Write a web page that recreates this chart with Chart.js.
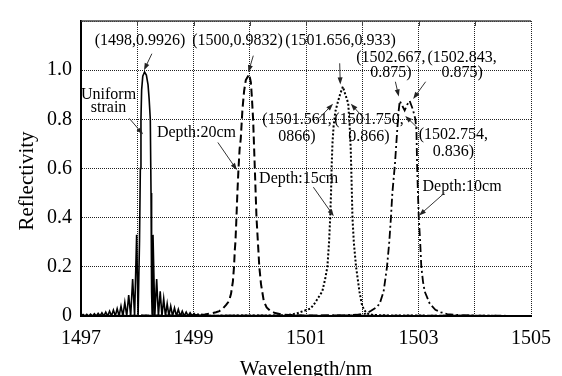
<!DOCTYPE html>
<html lang="en">
<head>
<meta charset="UTF-8">
<title>Reflectivity vs Wavelength</title>
<script src="https://cdn.jsdelivr.net/npm/chart.js"></script>
<style>
  body { margin: 0; background: white; }
  canvas { display: block; }
</style>
</head>
<body>
<canvas id="reflChart" width="562" height="376"></canvas>
<script>
// tick labels shown on the axes (grid runs every 1 nm / 0.2)
const xTickLabels = [1497, 1499, 1501, 1503, 1505];
const yTickLabels = [0, 0.2, 0.4, 0.6, 0.8, 1.0];

// [wavelength nm, reflectivity]
const uniformStrain = [
  [1497.000, 0], [1497.036, 0.006], [1497.070, 0], [1497.103, 0.007], [1497.137, 0], [1497.170, 0.008],
  [1497.204, 0], [1497.238, 0.009], [1497.271, 0], [1497.305, 0.011], [1497.339, 0], [1497.372, 0.013],
  [1497.406, 0], [1497.440, 0.016], [1497.474, 0], [1497.508, 0.020], [1497.542, 0], [1497.576, 0.024],
  [1497.610, 0], [1497.643, 0.030], [1497.677, 0], [1497.711, 0.040], [1497.745, 0], [1497.779, 0.055],
  [1497.813, 0], [1497.848, 0.085], [1497.883, 0], [1497.918, 0.150], [1497.953, 0], [1497.989, 0.330],
  [1498.015, 0],
  [1498.025, 0], [1498.040, 0.30], [1498.055, 0.60], [1498.066, 0.80], [1498.078, 0.92], [1498.098, 0.975],
  [1498.130, 0.9926], [1498.162, 0.98], [1498.192, 0.94], [1498.212, 0.88], [1498.232, 0.80],
  [1498.245, 0.50], [1498.255, 0.10], [1498.265, 0],
  [1498.280, 0.330], [1498.312, 0], [1498.345, 0.150], [1498.376, 0], [1498.408, 0.100], [1498.439, 0],
  [1498.470, 0.070], [1498.501, 0], [1498.532, 0.050], [1498.563, 0], [1498.595, 0.040], [1498.628, 0],
  [1498.662, 0.033], [1498.696, 0], [1498.730, 0.027], [1498.765, 0], [1498.800, 0.020], [1498.835, 0],
  [1498.870, 0.016], [1498.905, 0], [1498.940, 0.013], [1498.975, 0], [1499.010, 0.010], [1499.045, 0],
  [1499.080, 0.008], [1499.115, 0], [1499.150, 0.006], [1499.185, 0], [1499.220, 0.005], [1499.250, 0],
  [1499.500, 0.002], [1505.000, 0]
];

const depth20 = [
  [1497.0, 0], [1499.0, 0.003], [1499.2, 0.006], [1499.3, 0.01], [1499.4, 0.015], [1499.46, 0.02],
  [1499.52, 0.03], [1499.58, 0.045], [1499.63, 0.06], [1499.667, 0.09], [1499.70, 0.14], [1499.72, 0.2],
  [1499.735, 0.27], [1499.745, 0.3], [1499.76, 0.38], [1499.78, 0.5], [1499.80, 0.6], [1499.82, 0.68],
  [1499.84, 0.72], [1499.855, 0.78], [1499.87, 0.84], [1499.90, 0.916], [1499.93, 0.96], [1499.99, 0.9832],
  [1500.02, 0.95], [1500.035, 0.9], [1500.06, 0.8], [1500.09, 0.6], [1500.12, 0.4], [1500.15, 0.28],
  [1500.17, 0.2], [1500.20, 0.13], [1500.25, 0.06], [1500.30, 0.035], [1500.37, 0.02], [1500.45, 0.012],
  [1500.55, 0.007], [1500.70, 0.004], [1501.00, 0.002], [1505.0, 0]
];

const depth15 = [
  [1497.0, 0], [1500.5, 0.002], [1500.7, 0.005], [1500.83, 0.01], [1500.95, 0.02], [1501.08, 0.03],
  [1501.15, 0.05], [1501.22, 0.075], [1501.29, 0.1], [1501.34, 0.15], [1501.38, 0.2], [1501.41, 0.3],
  [1501.43, 0.4], [1501.445, 0.5], [1501.455, 0.6], [1501.47, 0.7], [1501.49, 0.77], [1501.52, 0.83],
  [1501.561, 0.866], [1501.61, 0.905], [1501.656, 0.933], [1501.70, 0.9], [1501.75, 0.866],
  [1501.775, 0.78], [1501.795, 0.68], [1501.81, 0.55], [1501.826, 0.4], [1501.85, 0.3], [1501.89, 0.2],
  [1501.95, 0.1], [1501.99, 0.05], [1502.03, 0.025], [1502.09, 0.01], [1502.2, 0.004], [1502.5, 0.002],
  [1505.0, 0]
];

const depth10 = [
  [1497.0, 0], [1501.5, 0.002], [1501.9, 0.005], [1502.06, 0.01], [1502.15, 0.02], [1502.25, 0.035],
  [1502.31, 0.05], [1502.38, 0.1], [1502.44, 0.2], [1502.48, 0.3], [1502.51, 0.4], [1502.535, 0.5],
  [1502.58, 0.614], [1502.62, 0.75], [1502.645, 0.83], [1502.667, 0.875], [1502.70, 0.86],
  [1502.754, 0.836], [1502.80, 0.86], [1502.843, 0.875], [1502.90, 0.84], [1502.945, 0.8],
  [1502.964, 0.75], [1502.975, 0.614], [1502.99, 0.5], [1503.005, 0.4], [1503.03, 0.3], [1503.05, 0.2],
  [1503.08, 0.14], [1503.11, 0.1], [1503.2, 0.05], [1503.3, 0.025], [1503.4, 0.015], [1503.51, 0.008],
  [1503.7, 0.004], [1504.0, 0.002], [1505.0, 0]
];

// callouts: text lines, first baseline (data coords), line gap px, arrow tail -> head (data coords)
const notes = [
  { lines: ['(1498,0.9926)'], at: [1498.05, 1.102], gap: 15, from: [1498.26, 1.067], to: [1498.12, 1.0] },
  { lines: ['(1500,0.9832)'], at: [1499.783, 1.102], gap: 15, from: [1500.063, 1.059], to: [1499.976, 0.992] },
  { lines: ['(1501.656,0.933)'], at: [1501.613, 1.102], gap: 15, from: [1501.599, 1.028], to: [1501.61, 0.942] },
  { lines: ['(1502.667,', '0.875)'], at: [1502.51, 1.035], gap: 15, from: [1502.589, 0.953], to: [1502.649, 0.893] },
  { lines: ['(1502.843,', '0.875)'], at: [1503.775, 1.035], gap: 15, from: [1503.127, 0.953], to: [1502.905, 0.883] },
  { lines: ['(1501.561,', '0866)'], at: [1500.84, 0.78], gap: 17, from: [1501.231, 0.804], to: [1501.481, 0.863] },
  { lines: ['(1501.750,', '0.866)'], at: [1502.12, 0.78], gap: 17, from: [1502.03, 0.804], to: [1501.797, 0.863] },
  { lines: ['(1502.754,', '0.836)'], at: [1503.62, 0.72], gap: 17, from: [1503.01, 0.759], to: [1502.765, 0.814] },
  { lines: ['Uniform', 'strain'], at: [1497.49, 0.882], gap: 13, from: [1497.858, 0.804], to: [1498.103, 0.739] },
  { lines: ['Depth:20cm'], at: [1499.053, 0.728], gap: 15, from: [1499.433, 0.706], to: [1499.771, 0.594] },
  { lines: ['Depth:15cm'], at: [1500.869, 0.543], gap: 15, from: [1501.131, 0.524], to: [1501.494, 0.406] },
  { lines: ['Depth:10cm'], at: [1503.775, 0.508], gap: 15, from: [1503.46, 0.5], to: [1503.01, 0.409] }
];

const serif = '"Liberation Serif", "Times New Roman", serif';

function toPoints(rows) {
  return rows.map(r => ({ x: r[0], y: r[1] }));
}

const decor = {
  id: 'decor',
  afterDatasetsDraw(chart) {
    const { ctx, scales: { x, y } } = chart;
    ctx.save();
    ctx.font = '16px ' + serif;
    ctx.textAlign = 'center';
    ctx.textBaseline = 'alphabetic';
    ctx.fillStyle = '#000';
    notes.forEach(n => {
      const tx = x.getPixelForValue(n.at[0]);
      const ty = y.getPixelForValue(n.at[1]);
      n.lines.forEach((t, i) => ctx.fillText(t, tx, ty + i * n.gap));

      const x1 = x.getPixelForValue(n.from[0]), y1 = y.getPixelForValue(n.from[1]);
      const x2 = x.getPixelForValue(n.to[0]), y2 = y.getPixelForValue(n.to[1]);
      const ang = Math.atan2(y2 - y1, x2 - x1);
      ctx.strokeStyle = '#333';
      ctx.lineWidth = 1;
      ctx.beginPath();
      ctx.moveTo(x1, y1);
      ctx.lineTo(x2 - 5 * Math.cos(ang), y2 - 5 * Math.sin(ang));
      ctx.stroke();
      ctx.fillStyle = '#222';
      ctx.beginPath();
      ctx.moveTo(x2, y2);
      ctx.lineTo(x2 - 7 * Math.cos(ang) + 2.5 * Math.sin(ang), y2 - 7 * Math.sin(ang) - 2.5 * Math.cos(ang));
      ctx.lineTo(x2 - 7 * Math.cos(ang) - 2.5 * Math.sin(ang), y2 - 7 * Math.sin(ang) + 2.5 * Math.cos(ang));
      ctx.closePath();
      ctx.fill();
      ctx.fillStyle = '#000';
    });
    ctx.restore();
  },
  afterDraw(chart) {
    const { ctx, chartArea: a, scales: { x } } = chart;
    ctx.save();
    // solid top frame and small inward ticks
    ctx.strokeStyle = '#444';
    ctx.lineWidth = 1.5;
    ctx.beginPath();
    ctx.moveTo(a.left, a.top);
    ctx.lineTo(a.right, a.top);
    ctx.stroke();
    ctx.lineWidth = 1;
    for (let v = 1498; v < 1505; v++) {
      const px = Math.round(x.getPixelForValue(v)) + 0.5;
      ctx.beginPath();
      ctx.moveTo(px, a.top);
      ctx.lineTo(px, a.top + 5);
      ctx.stroke();
    }
    // axis titles
    ctx.fillStyle = '#000';
    ctx.font = '21px ' + serif;
    ctx.textAlign = 'center';
    ctx.textBaseline = 'alphabetic';
    ctx.fillText('Wavelength/nm', (a.left + a.right) / 2, 375);
    ctx.translate(33, 181);
    ctx.rotate(-Math.PI / 2);
    ctx.fillText('Reflectivity', 0, 0);
    ctx.restore();
  }
};

new Chart(document.getElementById('reflChart').getContext('2d'), {
  type: 'line',
  data: {
    datasets: [
      { label: 'Uniform strain', data: toPoints(uniformStrain), borderColor: '#000', borderWidth: 1.6 },
      { label: 'Depth:20cm', data: toPoints(depth20), borderColor: '#000', borderWidth: 2, borderDash: [8, 4] },
      { label: 'Depth:15cm', data: toPoints(depth15), borderColor: '#000', borderWidth: 2, borderDash: [2, 2] },
      { label: 'Depth:10cm', data: toPoints(depth10), borderColor: '#000', borderWidth: 1.8, borderDash: [8, 3, 2, 3] }
    ]
  },
  options: {
    responsive: false,
    animation: false,
    elements: { point: { radius: 0 }, line: { tension: 0 } },
    layout: { padding: { left: 0, right: 24, top: 10, bottom: 0 } },
    plugins: { legend: { display: false }, tooltip: { enabled: false } },
    scales: {
      x: {
        type: 'linear',
        min: 1497,
        max: 1505,
        afterFit: s => { s.height = 60; },
        ticks: {
          stepSize: 1,
          autoSkip: false,
          maxRotation: 0,
          padding: 11,
          color: '#000',
          font: { family: serif, size: 20 },
          callback: v => xTickLabels.includes(v) ? String(v) : ''
        },
        grid: { color: '#222', lineWidth: 1, drawTicks: false },
        border: { display: true, color: '#000', width: 2, dash: [1, 1] }
      },
      y: {
        min: 0,
        max: 1.2,
        afterFit: s => { s.width = 81; },
        ticks: {
          stepSize: 0.2,
          padding: 9,
          color: '#000',
          font: { family: serif, size: 20 },
          callback: v => {
            const r = Math.round(v * 10) / 10;
            if (!yTickLabels.includes(r)) return '';
            return r === 0 ? '0' : r.toFixed(1);
          }
        },
        grid: { color: '#222', lineWidth: 1, drawTicks: false },
        border: { display: true, color: '#000', width: 2, dash: [1, 1] }
      }
    }
  },
  plugins: [decor]
});
</script>
</body>
</html>
